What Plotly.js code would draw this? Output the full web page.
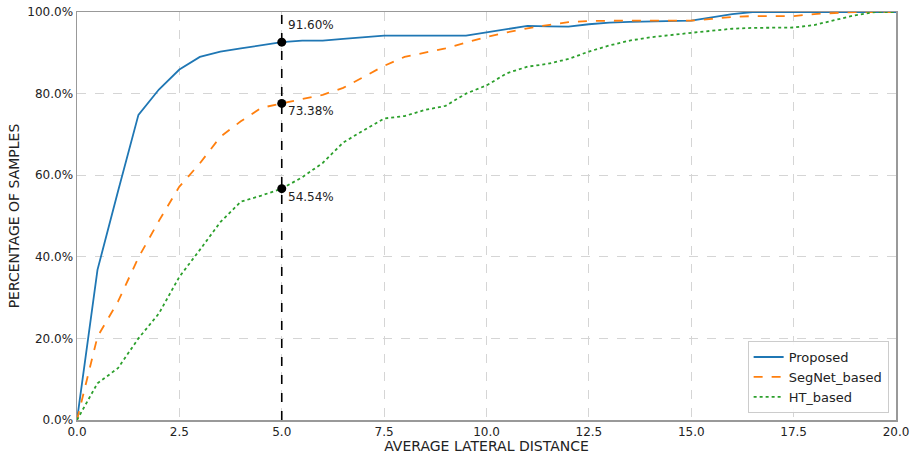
<!DOCTYPE html>
<html>
<head>
<meta charset="utf-8">
<script src="https://cdn.plot.ly/plotly-3.0.1.min.js"></script>
<style>html,body{margin:0;padding:0;background:#fff;}#chart{width:914px;height:454px;}</style>
</head>
<body>
<div id="chart"></div>
<script>
const distance = [0,0.5,1,1.5,2,2.5,3,3.5,4,4.5,5,5.5,6,6.5,7,7.5,8,8.5,9,9.5,10,10.5,11,11.5,12,12.5,13,13.5,14,14.5,15,15.5,16,16.5,17,17.5,18,18.5,19,19.5,20];
const proposed = [0,36.8,56,74.8,81,85.9,89,90.3,91.1,91.9,92.6,93.0,93.0,93.4,93.8,94.2,94.2,94.2,94.2,94.2,95.0,95.8,96.6,96.5,96.4,97.0,97.4,97.6,97.7,97.8,97.9,98.7,99.5,100,100,100,100,100,100,100,100];
const segnet = [0,20.4,29,39.8,48.8,57.2,62.9,69.4,73.2,76.5,77.6,78.6,79.7,81.4,84.2,86.8,89.0,90.0,91.1,92.5,93.9,95.0,96.0,96.8,97.5,97.8,97.9,97.9,97.9,97.9,97.9,98.3,98.8,99.0,99.0,99.0,99.5,99.8,100,100,100];
const htBased = [0,9.0,12.7,20.0,26.1,35.1,41.7,48.5,53.5,55.0,56.7,59.5,63.0,68.0,71.0,73.9,74.5,76.0,77.0,80.0,82.0,85.0,86.6,87.3,88.5,90.3,91.8,93.0,93.8,94.4,94.9,95.4,95.9,96.1,96.2,96.2,96.8,98.0,99.2,100,100];
const markX = 5;
const markY = [92.6, 77.6, 56.7];
const markLabels = ["91.60%", "73.38%", "54.54%"];
const labelY = [96.8, 75.7, 54.7];
const xTicks = [0,2.5,5,7.5,10,12.5,15,17.5,20];
const yTicks = [0,20,40,60,80,100];
const xTickText = xTicks.map(v => v.toFixed(1));
const yTickText = yTicks.map(v => v.toFixed(1) + "%");

const traces = [
  {x: distance, y: proposed, name: "Proposed", mode: "lines", line: {color: "#1f77b4", width: 1.8}},
  {x: distance, y: segnet, name: "SegNet_based", mode: "lines", line: {color: "#ff7f0e", width: 1.8, dash: "dash"}},
  {x: distance, y: htBased, name: "HT_based", mode: "lines", line: {color: "#2ca02c", width: 1.8, dash: "dot"}},
  {x: [markX, markX], y: [0, 100], mode: "lines", showlegend: false, line: {color: "#000", width: 1.6, dash: "dash"}, hoverinfo: "skip"},
  {x: markY.map(() => markX), y: markY, mode: "markers", showlegend: false, marker: {color: "#000", size: 9}}
];

const annotations = markLabels.map((t, i) => ({
  x: markX, y: labelY[i], xref: "x", yref: "y", text: t, showarrow: false,
  xanchor: "left", yanchor: "middle", xshift: 4,
  font: {family: "DejaVu Sans, sans-serif", size: 12, color: "#222"}
}));

const layout = {
  width: 914, height: 454,
  margin: {l: 77, r: 18, t: 12, b: 34},
  paper_bgcolor: "#fff", plot_bgcolor: "#fff",
  font: {family: "DejaVu Sans, sans-serif", size: 12, color: "#222"},
  xaxis: {
    range: [0, 20], tickmode: "array", tickvals: xTicks, ticktext: xTickText,
    showgrid: true, gridcolor: "#d5d5d5", griddash: "dash", gridwidth: 1,
    showline: true, linecolor: "#999", linewidth: 1.5, mirror: true,
    ticks: "", zeroline: false,
    title: {text: "AVERAGE LATERAL DISTANCE", font: {size: 14, color: "#222"}, standoff: 0},
    tickfont: {size: 12}
  },
  yaxis: {
    range: [0, 100], tickmode: "array", tickvals: yTicks, ticktext: yTickText,
    showgrid: true, gridcolor: "#d5d5d5", griddash: "dash", gridwidth: 1,
    showline: true, linecolor: "#999", linewidth: 1.5, mirror: true,
    ticks: "", zeroline: false,
    title: {text: "PERCENTAGE OF SAMPLES", font: {size: 14, color: "#222"}, standoff: 4},
    tickfont: {size: 12}
  },
  legend: {
    x: 0.991, y: 0.017, xanchor: "right", yanchor: "bottom",
    bgcolor: "rgba(255,255,255,0.9)", bordercolor: "#ccc", borderwidth: 1,
    font: {size: 13, color: "#222"}, tracegroupgap: 0
  },
  annotations: annotations,
  showlegend: true
};

Plotly.newPlot("chart", traces, layout, {displayModeBar: false, staticPlot: true});
</script>
</body>
</html>
